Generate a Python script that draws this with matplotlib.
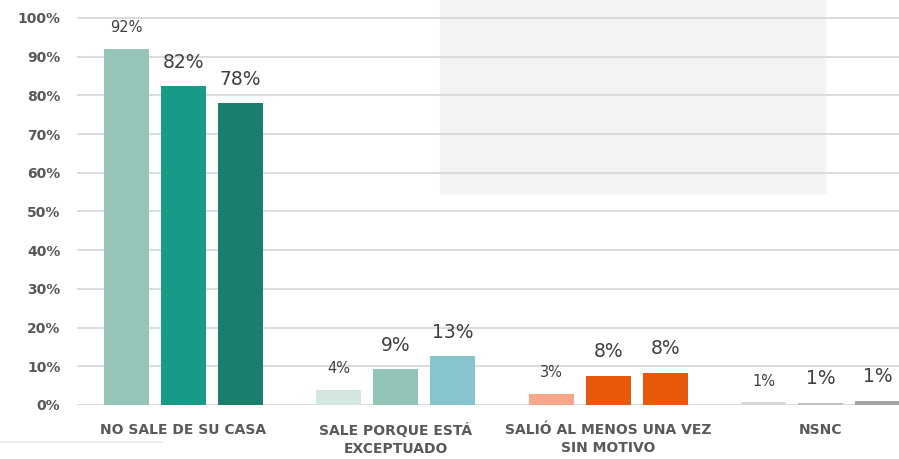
import numpy as np
import matplotlib.pyplot as plt
from matplotlib.patches import Rectangle
from matplotlib.lines import Line2D

categories = ["NO SALE DE SU CASA", "SALE PORQUE ESTÁ\nEXCEPTUADO",
              "SALIÓ AL MENOS UNA VEZ\nSIN MOTIVO", "NSNC"]
serie_1 = [92.0, 3.9, 2.8, 0.7]
serie_2 = [82.4, 9.3, 7.6, 0.6]
serie_3 = [78.0, 12.6, 8.3, 1.1]
yticks = [0, 10, 20, 30, 40, 50, 60, 70, 80, 90, 100]

colors = [
    ["#94C5B8", "#D3E6E1", "#F8A68A", "#D9D9D9"],
    ["#179A87", "#92C4B7", "#E8590C", "#BFBFBF"],
    ["#1B7D6B", "#86C4CE", "#E8590C", "#A6A6A6"],
]

fig = plt.figure(figsize=(8.99, 4.59), dpi=100)
ax = fig.add_axes([77 / 899, 1 - 405 / 459, 1 - 77 / 899, 405 / 459])

x = np.arange(len(categories))
offset = 0.268
width = 0.212
series = [serie_1, serie_2, serie_3]

for i, vals in enumerate(series):
    pos = x + (i - 1) * offset
    ax.bar(pos, vals, width=width, color=colors[i], zorder=2)
    for p, v in zip(pos, vals):
        size = 10.5 if i == 0 else 13.5
        pad = 5.5 if i == 0 else 6.2
        ax.text(p, v + pad, "%.0f%%" % v, ha="center", va="center",
                fontsize=size, color="#404040", zorder=3)

# empty grey box (leftover legend area)
ax.add_patch(Rectangle((1.209, 54.8), 3.021 - 1.209, 60, color="#F3F3F3",
                       zorder=0.2, clip_on=False))

ax.set_xlim(-0.5, 3.369)
ax.set_ylim(0, 405 / 3.87)
ax.set_yticks(yticks)
ax.set_yticklabels(["%d%%" % t for t in yticks], fontsize=10,
                   fontweight="bold", color="#595959")
ax.set_xticks(x)
ax.set_xticklabels(categories, fontsize=10, fontweight="bold",
                   color="#595959", linespacing=1.35)
ax.tick_params(axis="both", length=0)
ax.tick_params(axis="x", pad=13)
ax.tick_params(axis="y", pad=12)
ax.grid(axis="y", color="#D9D9D9", linewidth=1.3)
ax.set_axisbelow(True)
for s in ax.spines.values():
    s.set_visible(False)

fig.add_artist(Line2D([0, 162 / 899], [1 - 442 / 459, 1 - 442 / 459],
                      color="#EEEEEE", linewidth=1.5))

fig.savefig("out.png", dpi=100)
